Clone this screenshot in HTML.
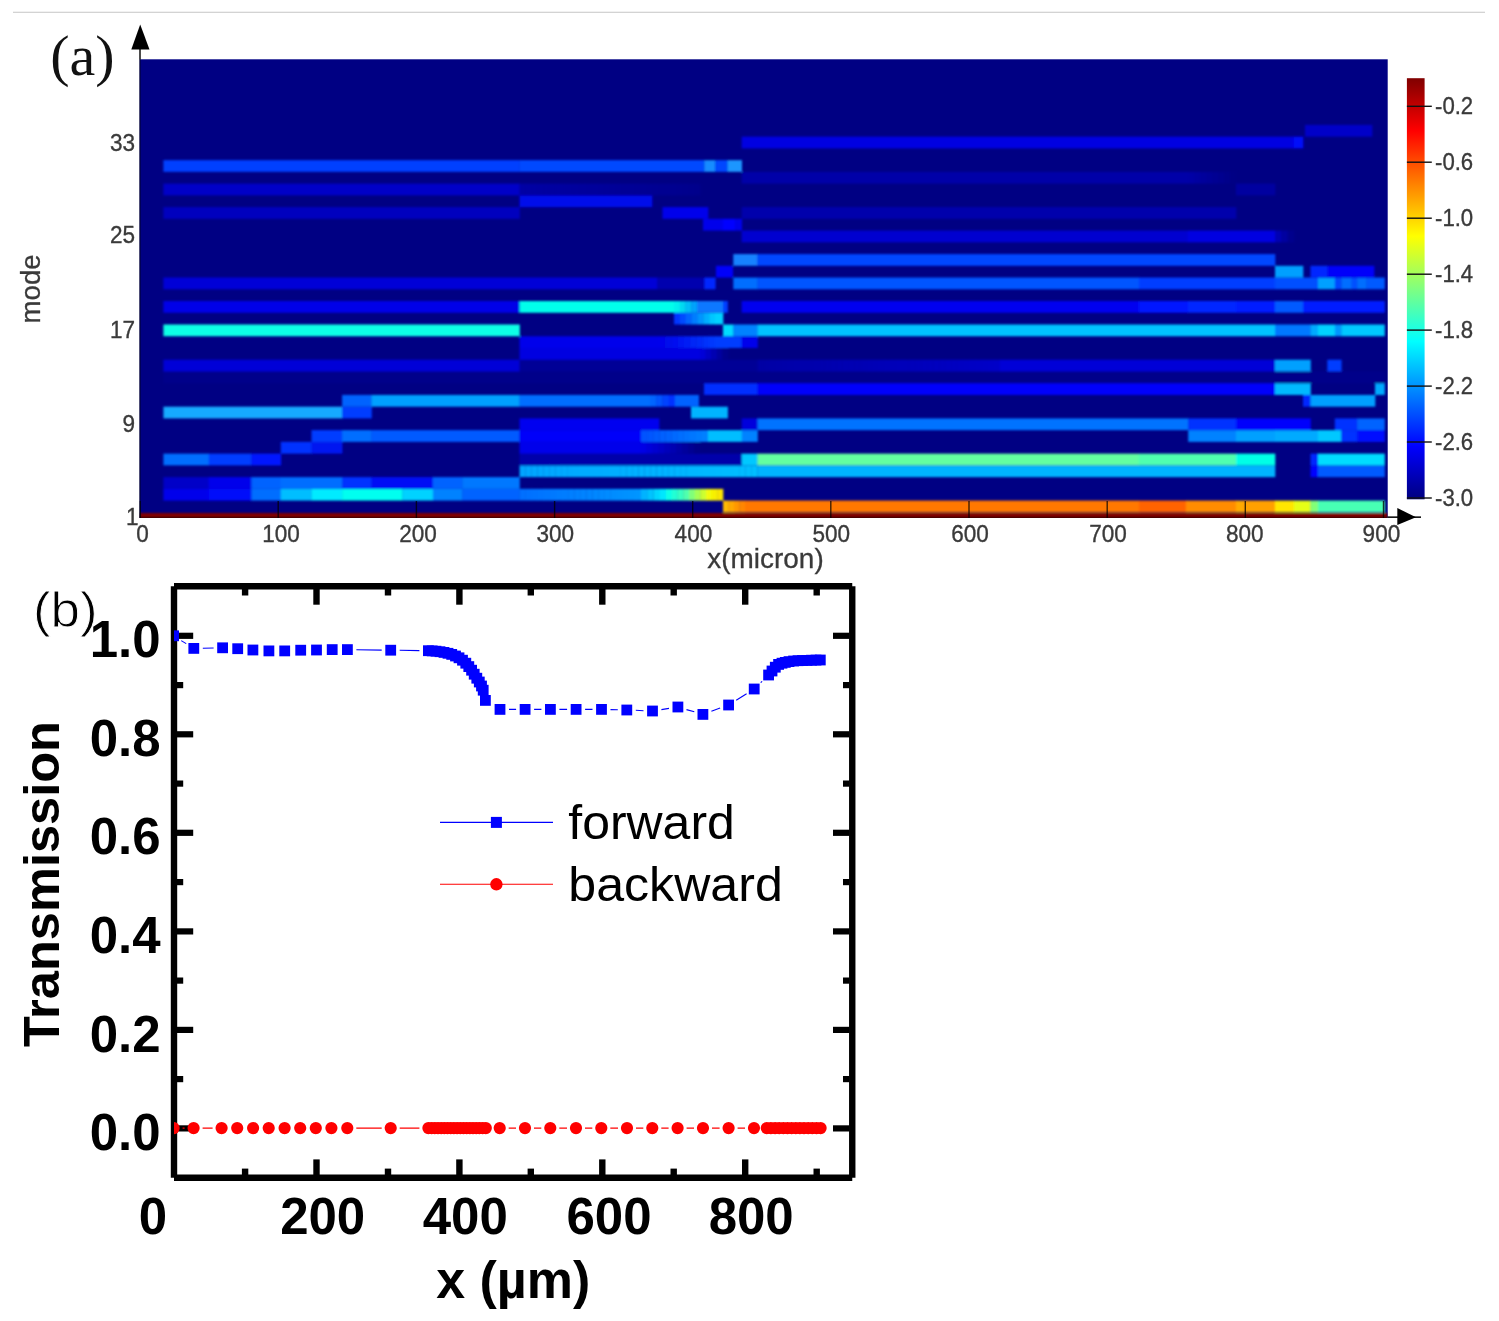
<!DOCTYPE html>
<html lang="en"><head><meta charset="utf-8"><title>Figure</title>
<style>html,body{margin:0;padding:0;background:#fff}svg{display:block}</style></head>
<body>
<svg width="1499" height="1321" viewBox="0 0 1499 1321" font-family="'Liberation Sans',sans-serif">
<defs><linearGradient id="jetg" x1="0" y1="0" x2="0" y2="1"><stop offset="0.0000" stop-color="rgb(128,0,0)"/><stop offset="0.0312" stop-color="rgb(159,0,0)"/><stop offset="0.0625" stop-color="rgb(191,0,0)"/><stop offset="0.0938" stop-color="rgb(223,0,0)"/><stop offset="0.1250" stop-color="rgb(255,0,0)"/><stop offset="0.1562" stop-color="rgb(255,32,0)"/><stop offset="0.1875" stop-color="rgb(255,64,0)"/><stop offset="0.2188" stop-color="rgb(255,96,0)"/><stop offset="0.2500" stop-color="rgb(255,128,0)"/><stop offset="0.2812" stop-color="rgb(255,159,0)"/><stop offset="0.3125" stop-color="rgb(255,191,0)"/><stop offset="0.3438" stop-color="rgb(255,223,0)"/><stop offset="0.3750" stop-color="rgb(255,255,0)"/><stop offset="0.4062" stop-color="rgb(223,255,32)"/><stop offset="0.4375" stop-color="rgb(191,255,64)"/><stop offset="0.4688" stop-color="rgb(159,255,96)"/><stop offset="0.5000" stop-color="rgb(128,255,128)"/><stop offset="0.5312" stop-color="rgb(96,255,159)"/><stop offset="0.5625" stop-color="rgb(64,255,191)"/><stop offset="0.5938" stop-color="rgb(32,255,223)"/><stop offset="0.6250" stop-color="rgb(0,255,255)"/><stop offset="0.6562" stop-color="rgb(0,223,255)"/><stop offset="0.6875" stop-color="rgb(0,191,255)"/><stop offset="0.7188" stop-color="rgb(0,159,255)"/><stop offset="0.7500" stop-color="rgb(0,128,255)"/><stop offset="0.7812" stop-color="rgb(0,96,255)"/><stop offset="0.8125" stop-color="rgb(0,64,255)"/><stop offset="0.8438" stop-color="rgb(0,32,255)"/><stop offset="0.8750" stop-color="rgb(0,0,255)"/><stop offset="0.9062" stop-color="rgb(0,0,223)"/><stop offset="0.9375" stop-color="rgb(0,0,191)"/><stop offset="0.9688" stop-color="rgb(0,0,159)"/><stop offset="1.0000" stop-color="rgb(0,0,128)"/></linearGradient><filter id="blur" x="-2%" y="-2%" width="104%" height="104%"><feGaussianBlur stdDeviation="1.0"/></filter>
<clipPath id="hmclip"><rect x="139.5" y="59.3" width="1248.2" height="458.6"/></clipPath>
<clipPath id="plotclip"><rect x="174.0" y="586.3" width="678.2" height="591.5"/></clipPath>
</defs>
<rect x="13" y="11.7" width="1472" height="1.2" fill="#cfcfcf"/>
<rect x="139.5" y="59.3" width="1248.2" height="458.6" fill="rgb(0,0,131)"/>
<g clip-path="url(#hmclip)"><g filter="url(#blur)"><rect x="723.0" y="500.59" width="5.8" height="11.74" fill="rgb(255,186,0)"/><rect x="728.5" y="500.59" width="5.8" height="11.74" fill="rgb(255,169,0)"/><rect x="734.0" y="500.59" width="5.8" height="11.74" fill="rgb(255,151,0)"/><rect x="739.5" y="500.59" width="5.8" height="11.74" fill="rgb(255,134,0)"/><rect x="745.0" y="500.59" width="394.2" height="11.74" fill="rgb(255,120,0)"/><rect x="1138.9" y="500.59" width="47.4" height="11.74" fill="rgb(255,100,0)"/><rect x="1186.0" y="500.59" width="50.3" height="11.74" fill="rgb(255,140,0)"/><rect x="1236.0" y="500.59" width="7.3" height="11.74" fill="rgb(255,170,0)"/><rect x="1243.0" y="500.59" width="32.3" height="11.74" fill="rgb(255,160,0)"/><rect x="1275.0" y="500.59" width="19.0" height="11.74" fill="rgb(255,230,0)"/><rect x="1293.7" y="500.59" width="17.1" height="11.74" fill="rgb(230,255,20)"/><rect x="1310.5" y="500.59" width="7.8" height="11.74" fill="rgb(130,255,120)"/><rect x="1318.0" y="500.59" width="66.8" height="11.74" fill="rgb(70,255,180)"/><rect x="163.4" y="488.85" width="45.6" height="11.74" fill="rgb(0,0,235)"/><rect x="208.7" y="488.85" width="43.0" height="11.74" fill="rgb(0,10,250)"/><rect x="251.4" y="488.85" width="29.7" height="11.74" fill="rgb(0,110,255)"/><rect x="280.8" y="488.85" width="31.0" height="11.74" fill="rgb(0,190,255)"/><rect x="311.5" y="488.85" width="30.9" height="11.74" fill="rgb(0,235,255)"/><rect x="342.1" y="488.85" width="60.4" height="11.74" fill="rgb(0,255,240)"/><rect x="402.2" y="488.85" width="31.0" height="11.74" fill="rgb(0,210,255)"/><rect x="432.9" y="488.85" width="29.6" height="11.74" fill="rgb(0,130,255)"/><rect x="462.2" y="488.85" width="57.6" height="11.74" fill="rgb(0,100,255)"/><rect x="519.5" y="488.85" width="6.4" height="11.74" fill="rgb(0,111,255)"/><rect x="525.6" y="488.85" width="6.4" height="11.74" fill="rgb(0,113,255)"/><rect x="531.6" y="488.85" width="6.4" height="11.74" fill="rgb(0,115,255)"/><rect x="537.7" y="488.85" width="6.4" height="11.74" fill="rgb(0,117,255)"/><rect x="543.8" y="488.85" width="6.4" height="11.74" fill="rgb(0,119,255)"/><rect x="549.9" y="488.85" width="6.4" height="11.74" fill="rgb(0,121,255)"/><rect x="556.0" y="488.85" width="6.4" height="11.74" fill="rgb(0,123,255)"/><rect x="562.0" y="488.85" width="6.4" height="11.74" fill="rgb(0,125,255)"/><rect x="568.1" y="488.85" width="6.4" height="11.74" fill="rgb(0,127,255)"/><rect x="574.2" y="488.85" width="6.4" height="11.74" fill="rgb(0,129,255)"/><rect x="580.2" y="488.85" width="6.4" height="11.74" fill="rgb(0,131,255)"/><rect x="586.3" y="488.85" width="6.4" height="11.74" fill="rgb(0,133,255)"/><rect x="592.4" y="488.85" width="6.4" height="11.74" fill="rgb(0,135,255)"/><rect x="598.5" y="488.85" width="6.4" height="11.74" fill="rgb(0,137,255)"/><rect x="604.5" y="488.85" width="6.4" height="11.74" fill="rgb(0,139,255)"/><rect x="610.6" y="488.85" width="6.4" height="11.74" fill="rgb(0,141,255)"/><rect x="616.7" y="488.85" width="6.4" height="11.74" fill="rgb(0,143,255)"/><rect x="622.8" y="488.85" width="6.4" height="11.74" fill="rgb(0,145,255)"/><rect x="628.9" y="488.85" width="6.4" height="11.74" fill="rgb(0,147,255)"/><rect x="634.9" y="488.85" width="6.4" height="11.74" fill="rgb(0,149,255)"/><rect x="641.0" y="488.85" width="6.5" height="11.74" fill="rgb(0,179,255)"/><rect x="647.2" y="488.85" width="6.5" height="11.74" fill="rgb(0,196,255)"/><rect x="653.5" y="488.85" width="6.5" height="11.74" fill="rgb(0,214,255)"/><rect x="659.8" y="488.85" width="6.5" height="11.74" fill="rgb(0,231,255)"/><rect x="666.0" y="488.85" width="6.0" height="11.74" fill="rgb(11,255,231)"/><rect x="671.8" y="488.85" width="6.0" height="11.74" fill="rgb(34,255,212)"/><rect x="677.5" y="488.85" width="6.0" height="11.74" fill="rgb(56,255,193)"/><rect x="683.2" y="488.85" width="6.0" height="11.74" fill="rgb(79,255,174)"/><rect x="689.0" y="488.85" width="6.0" height="11.74" fill="rgb(128,255,122)"/><rect x="694.7" y="488.85" width="6.0" height="11.74" fill="rgb(165,255,85)"/><rect x="700.3" y="488.85" width="6.0" height="11.74" fill="rgb(202,255,48)"/><rect x="706.0" y="488.85" width="6.0" height="11.74" fill="rgb(242,250,8)"/><rect x="711.7" y="488.85" width="6.0" height="11.74" fill="rgb(248,240,5)"/><rect x="717.3" y="488.85" width="6.0" height="11.74" fill="rgb(252,230,2)"/><rect x="163.4" y="477.11" width="45.6" height="11.74" fill="rgb(0,0,200)"/><rect x="208.7" y="477.11" width="43.0" height="11.74" fill="rgb(0,0,235)"/><rect x="251.4" y="477.11" width="29.7" height="11.74" fill="rgb(0,100,255)"/><rect x="280.8" y="477.11" width="61.6" height="11.74" fill="rgb(0,110,255)"/><rect x="342.1" y="477.11" width="29.7" height="11.74" fill="rgb(0,50,255)"/><rect x="371.5" y="477.11" width="61.7" height="11.74" fill="rgb(0,10,245)"/><rect x="432.9" y="477.11" width="29.6" height="11.74" fill="rgb(0,100,255)"/><rect x="462.2" y="477.11" width="57.6" height="11.74" fill="rgb(0,120,255)"/><rect x="519.5" y="465.37" width="6.2" height="11.74" fill="rgb(0,165,255)"/><rect x="525.5" y="465.37" width="6.2" height="11.74" fill="rgb(0,166,255)"/><rect x="531.4" y="465.37" width="6.2" height="11.74" fill="rgb(0,167,255)"/><rect x="537.4" y="465.37" width="6.2" height="11.74" fill="rgb(0,167,255)"/><rect x="543.3" y="465.37" width="6.2" height="11.74" fill="rgb(0,168,255)"/><rect x="549.2" y="465.37" width="6.2" height="11.74" fill="rgb(0,168,255)"/><rect x="555.2" y="465.37" width="6.2" height="11.74" fill="rgb(0,169,255)"/><rect x="561.1" y="465.37" width="6.2" height="11.74" fill="rgb(0,170,255)"/><rect x="567.1" y="465.37" width="6.2" height="11.74" fill="rgb(0,170,255)"/><rect x="573.0" y="465.37" width="6.2" height="11.74" fill="rgb(0,171,255)"/><rect x="579.0" y="465.37" width="6.2" height="11.74" fill="rgb(0,172,255)"/><rect x="585.0" y="465.37" width="6.2" height="11.74" fill="rgb(0,172,255)"/><rect x="590.9" y="465.37" width="6.2" height="11.74" fill="rgb(0,173,255)"/><rect x="596.9" y="465.37" width="6.2" height="11.74" fill="rgb(0,173,255)"/><rect x="602.8" y="465.37" width="6.2" height="11.74" fill="rgb(0,174,255)"/><rect x="608.8" y="465.37" width="6.2" height="11.74" fill="rgb(0,175,255)"/><rect x="614.7" y="465.37" width="6.2" height="11.74" fill="rgb(0,175,255)"/><rect x="620.6" y="465.37" width="6.2" height="11.74" fill="rgb(0,176,255)"/><rect x="626.6" y="465.37" width="6.2" height="11.74" fill="rgb(0,177,255)"/><rect x="632.5" y="465.37" width="6.2" height="11.74" fill="rgb(0,177,255)"/><rect x="638.5" y="465.37" width="6.2" height="11.74" fill="rgb(0,178,255)"/><rect x="644.5" y="465.37" width="6.2" height="11.74" fill="rgb(0,178,255)"/><rect x="650.4" y="465.37" width="6.2" height="11.74" fill="rgb(0,179,255)"/><rect x="656.4" y="465.37" width="6.2" height="11.74" fill="rgb(0,180,255)"/><rect x="662.3" y="465.37" width="6.2" height="11.74" fill="rgb(0,180,255)"/><rect x="668.2" y="465.37" width="6.2" height="11.74" fill="rgb(0,181,255)"/><rect x="674.2" y="465.37" width="6.2" height="11.74" fill="rgb(0,182,255)"/><rect x="680.1" y="465.37" width="6.2" height="11.74" fill="rgb(0,182,255)"/><rect x="686.1" y="465.37" width="6.2" height="11.74" fill="rgb(0,183,255)"/><rect x="692.0" y="465.37" width="6.2" height="11.74" fill="rgb(0,183,255)"/><rect x="698.0" y="465.37" width="6.2" height="11.74" fill="rgb(0,184,255)"/><rect x="704.0" y="465.37" width="6.2" height="11.74" fill="rgb(0,185,255)"/><rect x="709.9" y="465.37" width="6.2" height="11.74" fill="rgb(0,185,255)"/><rect x="715.9" y="465.37" width="6.2" height="11.74" fill="rgb(0,186,255)"/><rect x="721.8" y="465.37" width="6.2" height="11.74" fill="rgb(0,187,255)"/><rect x="727.8" y="465.37" width="6.2" height="11.74" fill="rgb(0,187,255)"/><rect x="733.7" y="465.37" width="6.2" height="11.74" fill="rgb(0,188,255)"/><rect x="739.6" y="465.37" width="6.2" height="11.74" fill="rgb(0,188,255)"/><rect x="745.6" y="465.37" width="6.2" height="11.74" fill="rgb(0,189,255)"/><rect x="751.5" y="465.37" width="6.2" height="11.74" fill="rgb(0,190,255)"/><rect x="757.5" y="465.37" width="517.8" height="11.74" fill="rgb(0,180,255)"/><rect x="1310.5" y="465.37" width="7.8" height="11.74" fill="rgb(0,0,255)"/><rect x="1318.0" y="465.37" width="66.8" height="11.74" fill="rgb(0,90,255)"/><rect x="163.4" y="453.63" width="45.6" height="11.74" fill="rgb(0,110,255)"/><rect x="208.7" y="453.63" width="43.0" height="11.74" fill="rgb(0,60,255)"/><rect x="251.4" y="453.63" width="29.7" height="11.74" fill="rgb(0,20,255)"/><rect x="519.5" y="453.63" width="222.5" height="11.74" fill="rgb(0,0,170)"/><rect x="741.7" y="453.63" width="16.1" height="11.74" fill="rgb(0,200,255)"/><rect x="757.5" y="453.63" width="381.7" height="11.74" fill="rgb(100,255,160)"/><rect x="1138.9" y="453.63" width="97.4" height="11.74" fill="rgb(80,255,175)"/><rect x="1236.0" y="453.63" width="39.3" height="11.74" fill="rgb(0,255,230)"/><rect x="1310.5" y="453.63" width="7.8" height="11.74" fill="rgb(0,40,255)"/><rect x="1318.0" y="453.63" width="66.8" height="11.74" fill="rgb(0,220,255)"/><rect x="280.8" y="441.89" width="31.0" height="11.74" fill="rgb(0,50,255)"/><rect x="311.5" y="441.89" width="30.9" height="11.74" fill="rgb(0,20,240)"/><rect x="519.5" y="441.89" width="120.8" height="11.74" fill="rgb(0,0,235)"/><rect x="640.0" y="441.89" width="6.3" height="11.74" fill="rgb(0,0,230)"/><rect x="646.0" y="441.89" width="6.3" height="11.74" fill="rgb(0,0,219)"/><rect x="652.0" y="441.89" width="6.3" height="11.74" fill="rgb(0,0,209)"/><rect x="658.0" y="441.89" width="6.3" height="11.74" fill="rgb(0,0,199)"/><rect x="664.0" y="441.89" width="6.3" height="11.74" fill="rgb(0,0,188)"/><rect x="670.0" y="441.89" width="6.3" height="11.74" fill="rgb(0,0,178)"/><rect x="676.0" y="441.89" width="6.3" height="11.74" fill="rgb(0,0,167)"/><rect x="682.0" y="441.89" width="6.3" height="11.74" fill="rgb(0,0,157)"/><rect x="688.0" y="441.89" width="6.3" height="11.74" fill="rgb(0,0,147)"/><rect x="694.0" y="441.89" width="6.3" height="11.74" fill="rgb(0,0,136)"/><rect x="311.5" y="430.15" width="30.9" height="11.74" fill="rgb(0,60,255)"/><rect x="342.1" y="430.15" width="29.7" height="11.74" fill="rgb(0,110,255)"/><rect x="371.5" y="430.15" width="148.3" height="11.74" fill="rgb(0,90,255)"/><rect x="519.5" y="430.15" width="121.8" height="11.74" fill="rgb(0,0,250)"/><rect x="641.0" y="430.15" width="6.4" height="11.74" fill="rgb(0,82,255)"/><rect x="647.1" y="430.15" width="6.4" height="11.74" fill="rgb(0,87,255)"/><rect x="653.2" y="430.15" width="6.4" height="11.74" fill="rgb(0,91,255)"/><rect x="659.3" y="430.15" width="6.4" height="11.74" fill="rgb(0,96,255)"/><rect x="665.4" y="430.15" width="6.4" height="11.74" fill="rgb(0,100,255)"/><rect x="671.5" y="430.15" width="6.4" height="11.74" fill="rgb(0,105,255)"/><rect x="677.5" y="430.15" width="6.4" height="11.74" fill="rgb(0,110,255)"/><rect x="683.6" y="430.15" width="6.4" height="11.74" fill="rgb(0,114,255)"/><rect x="689.7" y="430.15" width="6.4" height="11.74" fill="rgb(0,119,255)"/><rect x="695.8" y="430.15" width="6.4" height="11.74" fill="rgb(0,123,255)"/><rect x="701.9" y="430.15" width="6.4" height="11.74" fill="rgb(0,128,255)"/><rect x="708.0" y="430.15" width="34.0" height="11.74" fill="rgb(0,190,255)"/><rect x="741.7" y="430.15" width="16.1" height="11.74" fill="rgb(0,130,255)"/><rect x="1188.2" y="430.15" width="48.1" height="11.74" fill="rgb(0,130,255)"/><rect x="1236.0" y="430.15" width="39.3" height="11.74" fill="rgb(0,160,255)"/><rect x="1275.0" y="430.15" width="43.3" height="11.74" fill="rgb(0,170,255)"/><rect x="1318.0" y="430.15" width="23.6" height="11.74" fill="rgb(0,200,255)"/><rect x="1341.3" y="430.15" width="16.2" height="11.74" fill="rgb(0,50,255)"/><rect x="1357.2" y="430.15" width="27.6" height="11.74" fill="rgb(0,10,255)"/><rect x="519.5" y="418.41" width="139.8" height="11.74" fill="rgb(0,0,240)"/><rect x="741.7" y="418.41" width="16.1" height="11.74" fill="rgb(0,0,220)"/><rect x="757.5" y="418.41" width="431.0" height="11.74" fill="rgb(0,115,255)"/><rect x="1188.2" y="418.41" width="48.1" height="11.74" fill="rgb(0,50,255)"/><rect x="1236.0" y="418.41" width="74.8" height="11.74" fill="rgb(0,5,252)"/><rect x="1334.8" y="418.41" width="22.7" height="11.74" fill="rgb(0,50,255)"/><rect x="1357.2" y="418.41" width="27.6" height="11.74" fill="rgb(0,100,255)"/><rect x="163.4" y="406.67" width="179.0" height="11.74" fill="rgb(20,170,255)"/><rect x="342.1" y="406.67" width="29.7" height="11.74" fill="rgb(0,60,255)"/><rect x="691.0" y="406.67" width="36.9" height="11.74" fill="rgb(0,180,255)"/><rect x="342.1" y="394.93" width="29.7" height="11.74" fill="rgb(0,100,255)"/><rect x="371.5" y="394.93" width="148.3" height="11.74" fill="rgb(0,160,255)"/><rect x="519.5" y="394.93" width="130.8" height="11.74" fill="rgb(0,110,255)"/><rect x="650.0" y="394.93" width="6.5" height="11.74" fill="rgb(0,101,255)"/><rect x="656.2" y="394.93" width="6.5" height="11.74" fill="rgb(0,84,255)"/><rect x="662.5" y="394.93" width="6.5" height="11.74" fill="rgb(0,66,255)"/><rect x="668.8" y="394.93" width="6.5" height="11.74" fill="rgb(0,49,255)"/><rect x="675.0" y="394.93" width="23.9" height="11.74" fill="rgb(0,100,255)"/><rect x="1303.0" y="394.93" width="7.8" height="11.74" fill="rgb(0,40,255)"/><rect x="1310.5" y="394.93" width="64.8" height="11.74" fill="rgb(0,160,255)"/><rect x="704.0" y="383.19" width="53.8" height="11.74" fill="rgb(0,45,255)"/><rect x="757.5" y="383.19" width="517.8" height="11.74" fill="rgb(0,5,252)"/><rect x="1275.0" y="383.19" width="35.8" height="11.74" fill="rgb(0,185,255)"/><rect x="1375.0" y="383.19" width="9.8" height="11.74" fill="rgb(0,170,255)"/><rect x="163.4" y="371.45" width="1221.4" height="11.74" fill="rgb(0,0,138)"/><rect x="163.4" y="359.71" width="356.4" height="11.74" fill="rgb(0,0,215)"/><rect x="519.5" y="359.71" width="238.3" height="11.74" fill="rgb(0,0,150)"/><rect x="757.5" y="359.71" width="6.4" height="11.74" fill="rgb(0,0,165)"/><rect x="763.6" y="359.71" width="6.4" height="11.74" fill="rgb(0,0,166)"/><rect x="769.6" y="359.71" width="6.4" height="11.74" fill="rgb(0,0,167)"/><rect x="775.7" y="359.71" width="6.4" height="11.74" fill="rgb(0,0,168)"/><rect x="781.8" y="359.71" width="6.4" height="11.74" fill="rgb(0,0,169)"/><rect x="787.8" y="359.71" width="6.4" height="11.74" fill="rgb(0,0,170)"/><rect x="793.9" y="359.71" width="6.4" height="11.74" fill="rgb(0,0,171)"/><rect x="799.9" y="359.71" width="6.4" height="11.74" fill="rgb(0,0,172)"/><rect x="806.0" y="359.71" width="6.4" height="11.74" fill="rgb(0,0,172)"/><rect x="812.1" y="359.71" width="6.4" height="11.74" fill="rgb(0,0,173)"/><rect x="818.1" y="359.71" width="6.4" height="11.74" fill="rgb(0,0,174)"/><rect x="824.2" y="359.71" width="6.4" height="11.74" fill="rgb(0,0,175)"/><rect x="830.2" y="359.71" width="6.4" height="11.74" fill="rgb(0,0,176)"/><rect x="836.3" y="359.71" width="6.4" height="11.74" fill="rgb(0,0,177)"/><rect x="842.4" y="359.71" width="6.4" height="11.74" fill="rgb(0,0,178)"/><rect x="848.4" y="359.71" width="6.4" height="11.74" fill="rgb(0,0,179)"/><rect x="854.5" y="359.71" width="6.4" height="11.74" fill="rgb(0,0,179)"/><rect x="860.6" y="359.71" width="6.4" height="11.74" fill="rgb(0,0,180)"/><rect x="866.6" y="359.71" width="6.4" height="11.74" fill="rgb(0,0,181)"/><rect x="872.7" y="359.71" width="6.4" height="11.74" fill="rgb(0,0,182)"/><rect x="878.8" y="359.71" width="6.4" height="11.74" fill="rgb(0,0,183)"/><rect x="884.8" y="359.71" width="6.4" height="11.74" fill="rgb(0,0,184)"/><rect x="890.9" y="359.71" width="6.4" height="11.74" fill="rgb(0,0,185)"/><rect x="896.9" y="359.71" width="6.4" height="11.74" fill="rgb(0,0,186)"/><rect x="903.0" y="359.71" width="6.4" height="11.74" fill="rgb(0,0,186)"/><rect x="909.1" y="359.71" width="6.4" height="11.74" fill="rgb(0,0,187)"/><rect x="915.1" y="359.71" width="6.4" height="11.74" fill="rgb(0,0,188)"/><rect x="921.2" y="359.71" width="6.4" height="11.74" fill="rgb(0,0,189)"/><rect x="927.2" y="359.71" width="6.4" height="11.74" fill="rgb(0,0,190)"/><rect x="933.3" y="359.71" width="6.4" height="11.74" fill="rgb(0,0,191)"/><rect x="939.4" y="359.71" width="6.4" height="11.74" fill="rgb(0,0,192)"/><rect x="945.4" y="359.71" width="6.4" height="11.74" fill="rgb(0,0,193)"/><rect x="951.5" y="359.71" width="6.4" height="11.74" fill="rgb(0,0,193)"/><rect x="957.6" y="359.71" width="6.4" height="11.74" fill="rgb(0,0,194)"/><rect x="963.6" y="359.71" width="6.4" height="11.74" fill="rgb(0,0,195)"/><rect x="969.7" y="359.71" width="6.4" height="11.74" fill="rgb(0,0,196)"/><rect x="975.8" y="359.71" width="6.4" height="11.74" fill="rgb(0,0,197)"/><rect x="981.8" y="359.71" width="6.4" height="11.74" fill="rgb(0,0,198)"/><rect x="987.9" y="359.71" width="6.4" height="11.74" fill="rgb(0,0,199)"/><rect x="993.9" y="359.71" width="6.4" height="11.74" fill="rgb(0,0,200)"/><rect x="1000.0" y="359.71" width="275.3" height="11.74" fill="rgb(0,0,215)"/><rect x="1275.0" y="359.71" width="35.8" height="11.74" fill="rgb(0,160,255)"/><rect x="1327.3" y="359.71" width="14.3" height="11.74" fill="rgb(0,60,255)"/><rect x="519.5" y="347.97" width="180.8" height="11.74" fill="rgb(0,0,225)"/><rect x="700.0" y="347.97" width="5.9" height="11.74" fill="rgb(0,0,216)"/><rect x="705.6" y="347.97" width="5.9" height="11.74" fill="rgb(0,0,197)"/><rect x="711.2" y="347.97" width="5.9" height="11.74" fill="rgb(0,0,178)"/><rect x="716.8" y="347.97" width="5.9" height="11.74" fill="rgb(0,0,159)"/><rect x="722.4" y="347.97" width="5.9" height="11.74" fill="rgb(0,0,140)"/><rect x="519.5" y="336.23" width="139.8" height="11.74" fill="rgb(0,0,235)"/><rect x="659.0" y="336.23" width="6.5" height="11.74" fill="rgb(0,3,236)"/><rect x="665.2" y="336.23" width="6.5" height="11.74" fill="rgb(0,10,238)"/><rect x="671.4" y="336.23" width="6.5" height="11.74" fill="rgb(0,17,241)"/><rect x="677.7" y="336.23" width="6.5" height="11.74" fill="rgb(0,23,243)"/><rect x="683.9" y="336.23" width="6.5" height="11.74" fill="rgb(0,30,245)"/><rect x="690.1" y="336.23" width="6.5" height="11.74" fill="rgb(0,37,247)"/><rect x="696.3" y="336.23" width="6.5" height="11.74" fill="rgb(0,43,249)"/><rect x="702.6" y="336.23" width="6.5" height="11.74" fill="rgb(0,50,252)"/><rect x="708.8" y="336.23" width="6.5" height="11.74" fill="rgb(0,57,254)"/><rect x="715.0" y="336.23" width="27.0" height="11.74" fill="rgb(0,60,255)"/><rect x="741.7" y="336.23" width="16.1" height="11.74" fill="rgb(0,0,235)"/><rect x="163.4" y="324.49" width="356.4" height="11.74" fill="rgb(15,255,230)"/><rect x="723.0" y="324.49" width="10.6" height="11.74" fill="rgb(0,220,255)"/><rect x="733.3" y="324.49" width="24.5" height="11.74" fill="rgb(0,130,255)"/><rect x="757.5" y="324.49" width="517.8" height="11.74" fill="rgb(0,195,255)"/><rect x="1275.0" y="324.49" width="35.8" height="11.74" fill="rgb(0,120,255)"/><rect x="1310.5" y="324.49" width="7.8" height="11.74" fill="rgb(0,170,255)"/><rect x="1318.0" y="324.49" width="17.1" height="11.74" fill="rgb(0,210,255)"/><rect x="1334.8" y="324.49" width="6.8" height="11.74" fill="rgb(0,150,255)"/><rect x="1341.3" y="324.49" width="43.5" height="11.74" fill="rgb(0,200,255)"/><rect x="674.0" y="312.75" width="6.2" height="11.74" fill="rgb(0,52,255)"/><rect x="679.9" y="312.75" width="6.2" height="11.74" fill="rgb(0,76,255)"/><rect x="685.7" y="312.75" width="6.2" height="11.74" fill="rgb(0,101,255)"/><rect x="691.6" y="312.75" width="6.2" height="11.74" fill="rgb(0,125,255)"/><rect x="697.4" y="312.75" width="6.2" height="11.74" fill="rgb(0,149,255)"/><rect x="703.3" y="312.75" width="6.2" height="11.74" fill="rgb(0,174,255)"/><rect x="709.1" y="312.75" width="6.2" height="11.74" fill="rgb(0,198,255)"/><rect x="715.0" y="312.75" width="8.3" height="11.74" fill="rgb(0,210,255)"/><rect x="163.4" y="301.01" width="356.4" height="11.74" fill="rgb(0,0,232)"/><rect x="519.5" y="301.01" width="154.8" height="11.74" fill="rgb(0,255,235)"/><rect x="674.0" y="301.01" width="6.0" height="11.74" fill="rgb(0,242,238)"/><rect x="679.8" y="301.01" width="6.0" height="11.74" fill="rgb(0,216,242)"/><rect x="685.5" y="301.01" width="6.0" height="11.74" fill="rgb(0,189,248)"/><rect x="691.2" y="301.01" width="6.0" height="11.74" fill="rgb(0,163,252)"/><rect x="697.0" y="301.01" width="26.3" height="11.74" fill="rgb(10,120,255)"/><rect x="723.0" y="301.01" width="4.9" height="11.74" fill="rgb(0,60,255)"/><rect x="741.7" y="301.01" width="397.5" height="11.74" fill="rgb(0,0,240)"/><rect x="1138.9" y="301.01" width="49.4" height="11.74" fill="rgb(0,20,255)"/><rect x="1188.0" y="301.01" width="48.3" height="11.74" fill="rgb(0,40,255)"/><rect x="1236.0" y="301.01" width="39.3" height="11.74" fill="rgb(0,30,255)"/><rect x="1275.0" y="301.01" width="28.3" height="11.74" fill="rgb(0,90,255)"/><rect x="1303.0" y="301.01" width="81.8" height="11.74" fill="rgb(0,30,255)"/><rect x="163.4" y="277.53" width="493.9" height="11.74" fill="rgb(0,0,215)"/><rect x="657.0" y="277.53" width="47.7" height="11.74" fill="rgb(0,0,175)"/><rect x="704.4" y="277.53" width="11.2" height="11.74" fill="rgb(0,40,255)"/><rect x="733.3" y="277.53" width="24.5" height="11.74" fill="rgb(0,110,255)"/><rect x="757.5" y="277.53" width="381.7" height="11.74" fill="rgb(0,85,255)"/><rect x="1138.9" y="277.53" width="136.4" height="11.74" fill="rgb(0,60,255)"/><rect x="1275.0" y="277.53" width="43.3" height="11.74" fill="rgb(0,80,255)"/><rect x="1318.0" y="277.53" width="17.1" height="11.74" fill="rgb(0,160,255)"/><rect x="1334.8" y="277.53" width="6.8" height="11.74" fill="rgb(0,70,255)"/><rect x="1341.3" y="277.53" width="10.6" height="11.74" fill="rgb(0,110,255)"/><rect x="1351.6" y="277.53" width="5.9" height="11.74" fill="rgb(0,80,255)"/><rect x="1357.2" y="277.53" width="9.6" height="11.74" fill="rgb(0,110,255)"/><rect x="1366.5" y="277.53" width="18.3" height="11.74" fill="rgb(0,90,255)"/><rect x="716.0" y="265.79" width="17.0" height="11.74" fill="rgb(0,0,250)"/><rect x="1275.0" y="265.79" width="28.3" height="11.74" fill="rgb(0,160,255)"/><rect x="1310.5" y="265.79" width="17.1" height="11.74" fill="rgb(0,40,255)"/><rect x="1327.3" y="265.79" width="47.0" height="11.74" fill="rgb(0,0,250)"/><rect x="733.3" y="254.05" width="24.5" height="11.74" fill="rgb(20,130,255)"/><rect x="757.5" y="254.05" width="517.8" height="11.74" fill="rgb(0,70,255)"/><rect x="741.7" y="230.57" width="446.6" height="11.74" fill="rgb(0,0,208)"/><rect x="1188.0" y="230.57" width="87.3" height="11.74" fill="rgb(0,0,225)"/><rect x="1275.0" y="230.57" width="6.6" height="11.74" fill="rgb(0,0,180)"/><rect x="1281.3" y="230.57" width="6.6" height="11.74" fill="rgb(0,0,160)"/><rect x="1287.7" y="230.57" width="6.6" height="11.74" fill="rgb(0,0,141)"/><rect x="703.0" y="218.83" width="19.7" height="11.74" fill="rgb(0,0,235)"/><rect x="722.4" y="218.83" width="13.2" height="11.74" fill="rgb(0,0,255)"/><rect x="735.3" y="218.83" width="6.7" height="11.74" fill="rgb(0,0,235)"/><rect x="163.4" y="207.09" width="356.4" height="11.74" fill="rgb(0,0,190)"/><rect x="662.5" y="207.09" width="45.8" height="11.74" fill="rgb(0,0,235)"/><rect x="741.7" y="207.09" width="494.6" height="11.74" fill="rgb(0,0,172)"/><rect x="519.5" y="195.35" width="132.8" height="11.74" fill="rgb(0,10,235)"/><rect x="163.4" y="183.61" width="356.4" height="11.74" fill="rgb(0,0,200)"/><rect x="519.5" y="183.61" width="6.3" height="11.74" fill="rgb(0,0,165)"/><rect x="525.5" y="183.61" width="6.3" height="11.74" fill="rgb(0,0,164)"/><rect x="531.5" y="183.61" width="6.3" height="11.74" fill="rgb(0,0,163)"/><rect x="537.5" y="183.61" width="6.3" height="11.74" fill="rgb(0,0,162)"/><rect x="543.6" y="183.61" width="6.3" height="11.74" fill="rgb(0,0,161)"/><rect x="549.6" y="183.61" width="6.3" height="11.74" fill="rgb(0,0,160)"/><rect x="555.6" y="183.61" width="6.3" height="11.74" fill="rgb(0,0,160)"/><rect x="561.6" y="183.61" width="6.3" height="11.74" fill="rgb(0,0,159)"/><rect x="567.6" y="183.61" width="6.3" height="11.74" fill="rgb(0,0,158)"/><rect x="573.6" y="183.61" width="6.3" height="11.74" fill="rgb(0,0,157)"/><rect x="579.7" y="183.61" width="6.3" height="11.74" fill="rgb(0,0,156)"/><rect x="585.7" y="183.61" width="6.3" height="11.74" fill="rgb(0,0,155)"/><rect x="591.7" y="183.61" width="6.3" height="11.74" fill="rgb(0,0,155)"/><rect x="597.7" y="183.61" width="6.3" height="11.74" fill="rgb(0,0,154)"/><rect x="603.7" y="183.61" width="6.3" height="11.74" fill="rgb(0,0,153)"/><rect x="609.8" y="183.61" width="6.3" height="11.74" fill="rgb(0,0,152)"/><rect x="615.8" y="183.61" width="6.3" height="11.74" fill="rgb(0,0,151)"/><rect x="621.8" y="183.61" width="6.3" height="11.74" fill="rgb(0,0,150)"/><rect x="627.8" y="183.61" width="6.3" height="11.74" fill="rgb(0,0,150)"/><rect x="633.8" y="183.61" width="6.3" height="11.74" fill="rgb(0,0,149)"/><rect x="639.8" y="183.61" width="6.3" height="11.74" fill="rgb(0,0,148)"/><rect x="645.9" y="183.61" width="6.3" height="11.74" fill="rgb(0,0,147)"/><rect x="651.9" y="183.61" width="6.3" height="11.74" fill="rgb(0,0,146)"/><rect x="657.9" y="183.61" width="6.3" height="11.74" fill="rgb(0,0,145)"/><rect x="663.9" y="183.61" width="6.3" height="11.74" fill="rgb(0,0,145)"/><rect x="669.9" y="183.61" width="6.3" height="11.74" fill="rgb(0,0,144)"/><rect x="675.9" y="183.61" width="6.3" height="11.74" fill="rgb(0,0,143)"/><rect x="682.0" y="183.61" width="6.3" height="11.74" fill="rgb(0,0,142)"/><rect x="688.0" y="183.61" width="6.3" height="11.74" fill="rgb(0,0,141)"/><rect x="694.0" y="183.61" width="6.3" height="11.74" fill="rgb(0,0,140)"/><rect x="1236.0" y="183.61" width="39.3" height="11.74" fill="rgb(0,0,160)"/><rect x="741.7" y="171.87" width="446.6" height="11.74" fill="rgb(0,0,168)"/><rect x="1188.0" y="171.87" width="6.3" height="11.74" fill="rgb(0,0,166)"/><rect x="1194.0" y="171.87" width="6.3" height="11.74" fill="rgb(0,0,161)"/><rect x="1200.0" y="171.87" width="6.3" height="11.74" fill="rgb(0,0,156)"/><rect x="1206.0" y="171.87" width="6.3" height="11.74" fill="rgb(0,0,152)"/><rect x="1212.0" y="171.87" width="6.3" height="11.74" fill="rgb(0,0,147)"/><rect x="1218.0" y="171.87" width="6.3" height="11.74" fill="rgb(0,0,143)"/><rect x="1224.0" y="171.87" width="6.3" height="11.74" fill="rgb(0,0,138)"/><rect x="1230.0" y="171.87" width="6.3" height="11.74" fill="rgb(0,0,133)"/><rect x="163.4" y="160.13" width="356.4" height="11.74" fill="rgb(0,64,255)"/><rect x="519.5" y="160.13" width="185.2" height="11.74" fill="rgb(0,72,255)"/><rect x="704.4" y="160.13" width="11.2" height="11.74" fill="rgb(20,140,255)"/><rect x="715.3" y="160.13" width="12.5" height="11.74" fill="rgb(0,70,255)"/><rect x="727.5" y="160.13" width="14.5" height="11.74" fill="rgb(30,150,255)"/><rect x="741.7" y="136.65" width="552.3" height="11.74" fill="rgb(0,0,225)"/><rect x="1293.7" y="136.65" width="9.6" height="11.74" fill="rgb(0,10,250)"/><rect x="1305.0" y="124.91" width="67.3" height="11.74" fill="rgb(0,0,200)"/><rect x="139.5" y="513" width="1248.2" height="8" fill="rgb(128,0,0)"/></g>
<rect x="139.4" y="501" width="1.4" height="17" fill="#000" opacity="0.75"/>
<rect x="277.5" y="501" width="1.4" height="17" fill="#000" opacity="0.75"/>
<rect x="415.7" y="501" width="1.4" height="17" fill="#000" opacity="0.75"/>
<rect x="553.9" y="501" width="1.4" height="17" fill="#000" opacity="0.75"/>
<rect x="692.0" y="501" width="1.4" height="17" fill="#000" opacity="0.75"/>
<rect x="830.1" y="501" width="1.4" height="17" fill="#000" opacity="0.75"/>
<rect x="968.3" y="501" width="1.4" height="17" fill="#000" opacity="0.75"/>
<rect x="1106.5" y="501" width="1.4" height="17" fill="#000" opacity="0.75"/>
<rect x="1244.6" y="501" width="1.4" height="17" fill="#000" opacity="0.75"/>
<rect x="1382.8" y="501" width="1.4" height="17" fill="#000" opacity="0.75"/>
<rect x="139.5" y="516.6" width="1248" height="1.3" fill="#000" opacity="0.45"/>
</g>
<rect x="139.3" y="45" width="1.4" height="14.5" fill="#000"/>
<rect x="139.3" y="59.3" width="1.3" height="458.6" fill="#000" opacity="0.55"/>
<path d="M140.2 24.5 L131.3 49.6 L149.5 49.6 Z" fill="#000"/>
<rect x="1387.5" y="516.4" width="33.5" height="1.5" fill="#000"/>
<path d="M1397.3 508 L1397.3 525 L1416 517.2 Z" fill="#000"/>
<rect x="1406.9" y="78.2" width="17.7" height="421.1" fill="url(#jetg)"/>
<rect x="1406.9" y="497.3" width="24.9" height="1.4" fill="#111"/>
<text x="1435.0" y="505.6" font-size="23.8" textLength="38.2" lengthAdjust="spacingAndGlyphs" fill="#3a3a3a" stroke="#3a3a3a" stroke-width="0.35">-3.0</text>
<rect x="1406.9" y="441.3" width="24.9" height="1.4" fill="#111"/>
<text x="1435.0" y="449.6" font-size="23.8" textLength="38.2" lengthAdjust="spacingAndGlyphs" fill="#3a3a3a" stroke="#3a3a3a" stroke-width="0.35">-2.6</text>
<rect x="1406.9" y="385.4" width="24.9" height="1.4" fill="#111"/>
<text x="1435.0" y="393.7" font-size="23.8" textLength="38.2" lengthAdjust="spacingAndGlyphs" fill="#3a3a3a" stroke="#3a3a3a" stroke-width="0.35">-2.2</text>
<rect x="1406.9" y="329.4" width="24.9" height="1.4" fill="#111"/>
<text x="1435.0" y="337.7" font-size="23.8" textLength="38.2" lengthAdjust="spacingAndGlyphs" fill="#3a3a3a" stroke="#3a3a3a" stroke-width="0.35">-1.8</text>
<rect x="1406.9" y="273.5" width="24.9" height="1.4" fill="#111"/>
<text x="1435.0" y="281.8" font-size="23.8" textLength="38.2" lengthAdjust="spacingAndGlyphs" fill="#3a3a3a" stroke="#3a3a3a" stroke-width="0.35">-1.4</text>
<rect x="1406.9" y="217.5" width="24.9" height="1.4" fill="#111"/>
<text x="1435.0" y="225.8" font-size="23.8" textLength="38.2" lengthAdjust="spacingAndGlyphs" fill="#3a3a3a" stroke="#3a3a3a" stroke-width="0.35">-1.0</text>
<rect x="1406.9" y="161.5" width="24.9" height="1.4" fill="#111"/>
<text x="1435.0" y="169.8" font-size="23.8" textLength="38.2" lengthAdjust="spacingAndGlyphs" fill="#3a3a3a" stroke="#3a3a3a" stroke-width="0.35">-0.6</text>
<rect x="1406.9" y="105.6" width="24.9" height="1.4" fill="#111"/>
<text x="1435.0" y="113.9" font-size="23.8" textLength="38.2" lengthAdjust="spacingAndGlyphs" fill="#3a3a3a" stroke="#3a3a3a" stroke-width="0.35">-0.2</text>
<text x="50.2" y="75.3" font-family="'Liberation Serif',serif" font-size="58" textLength="64.4" lengthAdjust="spacingAndGlyphs" fill="#111">(a)</text>
<text transform="translate(135.0 151.0) scale(0.940 1)" font-size="24.0" text-anchor="end" fill="#3a3a3a" stroke="#3a3a3a" stroke-width="0.35">33</text>
<text transform="translate(135.0 242.8) scale(0.940 1)" font-size="24.0" text-anchor="end" fill="#3a3a3a" stroke="#3a3a3a" stroke-width="0.35">25</text>
<text transform="translate(135.0 338.0) scale(0.940 1)" font-size="24.0" text-anchor="end" fill="#3a3a3a" stroke="#3a3a3a" stroke-width="0.35">17</text>
<text transform="translate(135.0 432.2) scale(0.940 1)" font-size="24.0" text-anchor="end" fill="#3a3a3a" stroke="#3a3a3a" stroke-width="0.35">9</text>
<text transform="translate(138.6 525.0) scale(0.940 1)" font-size="24.0" text-anchor="end" fill="#3a3a3a" stroke="#3a3a3a" stroke-width="0.35">1</text>
<text transform="translate(142.6 542.3) scale(0.940 1)" font-size="24.0" text-anchor="middle" fill="#3a3a3a" stroke="#3a3a3a" stroke-width="0.35">0</text>
<text transform="translate(281.0 542.3) scale(0.940 1)" font-size="24.0" text-anchor="middle" fill="#3a3a3a" stroke="#3a3a3a" stroke-width="0.35">100</text>
<text transform="translate(418.0 542.3) scale(0.940 1)" font-size="24.0" text-anchor="middle" fill="#3a3a3a" stroke="#3a3a3a" stroke-width="0.35">200</text>
<text transform="translate(555.3 542.3) scale(0.940 1)" font-size="24.0" text-anchor="middle" fill="#3a3a3a" stroke="#3a3a3a" stroke-width="0.35">300</text>
<text transform="translate(693.4 542.3) scale(0.940 1)" font-size="24.0" text-anchor="middle" fill="#3a3a3a" stroke="#3a3a3a" stroke-width="0.35">400</text>
<text transform="translate(831.2 542.3) scale(0.940 1)" font-size="24.0" text-anchor="middle" fill="#3a3a3a" stroke="#3a3a3a" stroke-width="0.35">500</text>
<text transform="translate(970.0 542.3) scale(0.940 1)" font-size="24.0" text-anchor="middle" fill="#3a3a3a" stroke="#3a3a3a" stroke-width="0.35">600</text>
<text transform="translate(1108.0 542.3) scale(0.940 1)" font-size="24.0" text-anchor="middle" fill="#3a3a3a" stroke="#3a3a3a" stroke-width="0.35">700</text>
<text transform="translate(1244.7 542.3) scale(0.940 1)" font-size="24.0" text-anchor="middle" fill="#3a3a3a" stroke="#3a3a3a" stroke-width="0.35">800</text>
<text transform="translate(1381.4 542.3) scale(0.940 1)" font-size="24.0" text-anchor="middle" fill="#3a3a3a" stroke="#3a3a3a" stroke-width="0.35">900</text>
<text x="707.3" y="568.4" font-size="28" textLength="116.4" lengthAdjust="spacingAndGlyphs" fill="#3a3a3a" stroke="#3a3a3a" stroke-width="0.3">x(micron)</text>
<text transform="translate(39.9 323.4) rotate(-90)" font-size="28.5" textLength="69" lengthAdjust="spacingAndGlyphs" fill="#3a3a3a" stroke="#3a3a3a" stroke-width="0.3">mode</text>
<line x1="174.00" y1="586.30" x2="852.25" y2="586.30" stroke="#000" stroke-width="6.4"/>
<line x1="174.00" y1="1177.80" x2="852.25" y2="1177.80" stroke="#000" stroke-width="6.4"/>
<line x1="174.00" y1="586.30" x2="174.00" y2="1177.80" stroke="#000" stroke-width="6.4"/>
<line x1="852.25" y1="586.30" x2="852.25" y2="1177.80" stroke="#000" stroke-width="6.4"/>
<rect x="241.9" y="589.0" width="6.4" height="6.5" fill="#000"/>
<rect x="241.9" y="1168.6" width="6.4" height="6.5" fill="#000"/>
<rect x="313.3" y="589.0" width="6.4" height="15.7" fill="#000"/>
<rect x="313.3" y="1159.4" width="6.4" height="15.7" fill="#000"/>
<rect x="384.8" y="589.0" width="6.4" height="6.5" fill="#000"/>
<rect x="384.8" y="1168.6" width="6.4" height="6.5" fill="#000"/>
<rect x="456.2" y="589.0" width="6.4" height="15.7" fill="#000"/>
<rect x="456.2" y="1159.4" width="6.4" height="15.7" fill="#000"/>
<rect x="527.6" y="589.0" width="6.4" height="6.5" fill="#000"/>
<rect x="527.6" y="1168.6" width="6.4" height="6.5" fill="#000"/>
<rect x="599.1" y="589.0" width="6.4" height="15.7" fill="#000"/>
<rect x="599.1" y="1159.4" width="6.4" height="15.7" fill="#000"/>
<rect x="670.5" y="589.0" width="6.4" height="6.5" fill="#000"/>
<rect x="670.5" y="1168.6" width="6.4" height="6.5" fill="#000"/>
<rect x="742.0" y="589.0" width="6.4" height="15.7" fill="#000"/>
<rect x="742.0" y="1159.4" width="6.4" height="15.7" fill="#000"/>
<rect x="813.5" y="589.0" width="6.4" height="6.5" fill="#000"/>
<rect x="813.5" y="1168.6" width="6.4" height="6.5" fill="#000"/>
<rect x="176.7" y="1125.3" width="16.5" height="6.2" fill="#000"/>
<rect x="833.0" y="1125.3" width="16.5" height="6.2" fill="#000"/>
<rect x="176.7" y="1076.0" width="6.5" height="6.2" fill="#000"/>
<rect x="843.0" y="1076.0" width="6.5" height="6.2" fill="#000"/>
<rect x="176.7" y="1026.8" width="16.5" height="6.2" fill="#000"/>
<rect x="833.0" y="1026.8" width="16.5" height="6.2" fill="#000"/>
<rect x="176.7" y="977.5" width="6.5" height="6.2" fill="#000"/>
<rect x="843.0" y="977.5" width="6.5" height="6.2" fill="#000"/>
<rect x="176.7" y="928.3" width="16.5" height="6.2" fill="#000"/>
<rect x="833.0" y="928.3" width="16.5" height="6.2" fill="#000"/>
<rect x="176.7" y="879.0" width="6.5" height="6.2" fill="#000"/>
<rect x="843.0" y="879.0" width="6.5" height="6.2" fill="#000"/>
<rect x="176.7" y="829.7" width="16.5" height="6.2" fill="#000"/>
<rect x="833.0" y="829.7" width="16.5" height="6.2" fill="#000"/>
<rect x="176.7" y="780.5" width="6.5" height="6.2" fill="#000"/>
<rect x="843.0" y="780.5" width="6.5" height="6.2" fill="#000"/>
<rect x="176.7" y="731.2" width="16.5" height="6.2" fill="#000"/>
<rect x="833.0" y="731.2" width="16.5" height="6.2" fill="#000"/>
<rect x="176.7" y="682.0" width="6.5" height="6.2" fill="#000"/>
<rect x="843.0" y="682.0" width="6.5" height="6.2" fill="#000"/>
<rect x="176.7" y="632.7" width="16.5" height="6.2" fill="#000"/>
<rect x="833.0" y="632.7" width="16.5" height="6.2" fill="#000"/>
<g clip-path="url(#plotclip)">
<line x1="181.2" y1="640.6" x2="186.2" y2="643.6" stroke="#0000ff" stroke-width="1.1"/>
<line x1="202.8" y1="648.2" x2="213.6" y2="648.0" stroke="#0000ff" stroke-width="1.1"/>
<line x1="356.4" y1="649.7" x2="381.7" y2="650.1" stroke="#0000ff" stroke-width="1.1"/>
<line x1="399.7" y1="650.3" x2="419.4" y2="650.6" stroke="#0000ff" stroke-width="1.1"/>
<line x1="509.0" y1="709.4" x2="516.1" y2="709.4" stroke="#0000ff" stroke-width="1.1"/>
<line x1="534.1" y1="709.4" x2="541.4" y2="709.4" stroke="#0000ff" stroke-width="1.1"/>
<line x1="559.4" y1="709.4" x2="567.1" y2="709.4" stroke="#0000ff" stroke-width="1.1"/>
<line x1="585.1" y1="709.4" x2="592.5" y2="709.4" stroke="#0000ff" stroke-width="1.1"/>
<line x1="610.5" y1="709.6" x2="617.8" y2="709.8" stroke="#0000ff" stroke-width="1.1"/>
<line x1="635.8" y1="710.3" x2="643.5" y2="710.7" stroke="#0000ff" stroke-width="1.1"/>
<line x1="661.4" y1="709.6" x2="669.0" y2="708.4" stroke="#0000ff" stroke-width="1.1"/>
<line x1="686.5" y1="709.6" x2="694.3" y2="711.8" stroke="#0000ff" stroke-width="1.1"/>
<line x1="711.4" y1="711.3" x2="720.1" y2="708.1" stroke="#0000ff" stroke-width="1.1"/>
<line x1="736.2" y1="700.2" x2="746.6" y2="693.8" stroke="#0000ff" stroke-width="1.1"/>
<line x1="760.7" y1="682.7" x2="762.1" y2="681.3" stroke="#0000ff" stroke-width="1.1"/>
<rect x="168.2" y="630.4" width="10.8" height="10.8" fill="#0000ff"/>
<rect x="188.4" y="643.0" width="10.8" height="10.8" fill="#0000ff"/>
<rect x="217.2" y="642.4" width="10.8" height="10.8" fill="#0000ff"/>
<rect x="232.3" y="643.3" width="10.8" height="10.8" fill="#0000ff"/>
<rect x="247.5" y="644.6" width="10.8" height="10.8" fill="#0000ff"/>
<rect x="263.5" y="645.5" width="10.8" height="10.8" fill="#0000ff"/>
<rect x="279.3" y="645.5" width="10.8" height="10.8" fill="#0000ff"/>
<rect x="295.3" y="644.8" width="10.8" height="10.8" fill="#0000ff"/>
<rect x="311.1" y="644.6" width="10.8" height="10.8" fill="#0000ff"/>
<rect x="326.8" y="644.2" width="10.8" height="10.8" fill="#0000ff"/>
<rect x="342.0" y="644.2" width="10.8" height="10.8" fill="#0000ff"/>
<rect x="385.3" y="644.8" width="10.8" height="10.8" fill="#0000ff"/>
<rect x="423.0" y="645.3" width="10.8" height="10.8" fill="#0000ff"/>
<rect x="426.8" y="645.5" width="10.8" height="10.8" fill="#0000ff"/>
<rect x="430.6" y="645.8" width="10.8" height="10.8" fill="#0000ff"/>
<rect x="434.6" y="646.3" width="10.8" height="10.8" fill="#0000ff"/>
<rect x="438.6" y="647.0" width="10.8" height="10.8" fill="#0000ff"/>
<rect x="442.6" y="647.9" width="10.8" height="10.8" fill="#0000ff"/>
<rect x="446.3" y="649.0" width="10.8" height="10.8" fill="#0000ff"/>
<rect x="450.1" y="650.6" width="10.8" height="10.8" fill="#0000ff"/>
<rect x="453.6" y="652.4" width="10.8" height="10.8" fill="#0000ff"/>
<rect x="457.1" y="654.8" width="10.8" height="10.8" fill="#0000ff"/>
<rect x="460.4" y="657.8" width="10.8" height="10.8" fill="#0000ff"/>
<rect x="463.4" y="661.2" width="10.8" height="10.8" fill="#0000ff"/>
<rect x="466.2" y="664.8" width="10.8" height="10.8" fill="#0000ff"/>
<rect x="468.8" y="668.8" width="10.8" height="10.8" fill="#0000ff"/>
<rect x="471.4" y="672.8" width="10.8" height="10.8" fill="#0000ff"/>
<rect x="473.9" y="676.6" width="10.8" height="10.8" fill="#0000ff"/>
<rect x="476.1" y="680.6" width="10.8" height="10.8" fill="#0000ff"/>
<rect x="477.8" y="684.8" width="10.8" height="10.8" fill="#0000ff"/>
<rect x="480.0" y="695.0" width="10.8" height="10.8" fill="#0000ff"/>
<rect x="494.6" y="704.0" width="10.8" height="10.8" fill="#0000ff"/>
<rect x="519.7" y="704.0" width="10.8" height="10.8" fill="#0000ff"/>
<rect x="545.0" y="704.0" width="10.8" height="10.8" fill="#0000ff"/>
<rect x="570.7" y="704.0" width="10.8" height="10.8" fill="#0000ff"/>
<rect x="596.1" y="704.0" width="10.8" height="10.8" fill="#0000ff"/>
<rect x="621.4" y="704.6" width="10.8" height="10.8" fill="#0000ff"/>
<rect x="647.1" y="705.6" width="10.8" height="10.8" fill="#0000ff"/>
<rect x="672.5" y="701.6" width="10.8" height="10.8" fill="#0000ff"/>
<rect x="697.5" y="709.0" width="10.8" height="10.8" fill="#0000ff"/>
<rect x="723.2" y="699.6" width="10.8" height="10.8" fill="#0000ff"/>
<rect x="748.8" y="683.6" width="10.8" height="10.8" fill="#0000ff"/>
<rect x="763.2" y="669.6" width="10.8" height="10.8" fill="#0000ff"/>
<rect x="766.6" y="665.6" width="10.8" height="10.8" fill="#0000ff"/>
<rect x="769.9" y="661.8" width="10.8" height="10.8" fill="#0000ff"/>
<rect x="773.2" y="659.0" width="10.8" height="10.8" fill="#0000ff"/>
<rect x="776.6" y="657.8" width="10.8" height="10.8" fill="#0000ff"/>
<rect x="779.9" y="657.0" width="10.8" height="10.8" fill="#0000ff"/>
<rect x="783.6" y="656.2" width="10.8" height="10.8" fill="#0000ff"/>
<rect x="788.2" y="655.6" width="10.8" height="10.8" fill="#0000ff"/>
<rect x="792.6" y="655.3" width="10.8" height="10.8" fill="#0000ff"/>
<rect x="797.1" y="655.1" width="10.8" height="10.8" fill="#0000ff"/>
<rect x="801.6" y="655.0" width="10.8" height="10.8" fill="#0000ff"/>
<rect x="806.1" y="654.8" width="10.8" height="10.8" fill="#0000ff"/>
<rect x="810.6" y="654.7" width="10.8" height="10.8" fill="#0000ff"/>
<rect x="814.9" y="654.6" width="10.8" height="10.8" fill="#0000ff"/>
<line x1="182.6" y1="1128.1" x2="184.6" y2="1128.1" stroke="#ff0000" stroke-width="1.1"/>
<line x1="202.6" y1="1128.1" x2="212.6" y2="1128.1" stroke="#ff0000" stroke-width="1.1"/>
<line x1="356.3" y1="1128.1" x2="381.7" y2="1128.1" stroke="#ff0000" stroke-width="1.1"/>
<line x1="399.7" y1="1128.1" x2="419.4" y2="1128.1" stroke="#ff0000" stroke-width="1.1"/>
<line x1="508.7" y1="1128.1" x2="516.0" y2="1128.1" stroke="#ff0000" stroke-width="1.1"/>
<line x1="534.0" y1="1128.1" x2="541.3" y2="1128.1" stroke="#ff0000" stroke-width="1.1"/>
<line x1="559.3" y1="1128.1" x2="567.0" y2="1128.1" stroke="#ff0000" stroke-width="1.1"/>
<line x1="585.0" y1="1128.1" x2="592.3" y2="1128.1" stroke="#ff0000" stroke-width="1.1"/>
<line x1="610.3" y1="1128.1" x2="618.0" y2="1128.1" stroke="#ff0000" stroke-width="1.1"/>
<line x1="636.0" y1="1128.1" x2="643.3" y2="1128.1" stroke="#ff0000" stroke-width="1.1"/>
<line x1="661.3" y1="1128.1" x2="668.6" y2="1128.1" stroke="#ff0000" stroke-width="1.1"/>
<line x1="686.6" y1="1128.1" x2="694.0" y2="1128.1" stroke="#ff0000" stroke-width="1.1"/>
<line x1="712.0" y1="1128.1" x2="719.6" y2="1128.1" stroke="#ff0000" stroke-width="1.1"/>
<line x1="737.6" y1="1128.1" x2="745.0" y2="1128.1" stroke="#ff0000" stroke-width="1.1"/>
<circle cx="173.6" cy="1128.1" r="6.1" fill="#ff0000"/>
<circle cx="193.6" cy="1128.1" r="6.1" fill="#ff0000"/>
<circle cx="221.6" cy="1128.1" r="6.1" fill="#ff0000"/>
<circle cx="237.2" cy="1128.1" r="6.1" fill="#ff0000"/>
<circle cx="253.1" cy="1128.1" r="6.1" fill="#ff0000"/>
<circle cx="268.7" cy="1128.1" r="6.1" fill="#ff0000"/>
<circle cx="284.6" cy="1128.1" r="6.1" fill="#ff0000"/>
<circle cx="300.2" cy="1128.1" r="6.1" fill="#ff0000"/>
<circle cx="315.8" cy="1128.1" r="6.1" fill="#ff0000"/>
<circle cx="331.4" cy="1128.1" r="6.1" fill="#ff0000"/>
<circle cx="347.3" cy="1128.1" r="6.1" fill="#ff0000"/>
<circle cx="390.7" cy="1128.1" r="6.1" fill="#ff0000"/>
<circle cx="428.4" cy="1128.1" r="6.1" fill="#ff0000"/>
<circle cx="431.6" cy="1128.1" r="6.1" fill="#ff0000"/>
<circle cx="434.8" cy="1128.1" r="6.1" fill="#ff0000"/>
<circle cx="438.0" cy="1128.1" r="6.1" fill="#ff0000"/>
<circle cx="441.2" cy="1128.1" r="6.1" fill="#ff0000"/>
<circle cx="444.3" cy="1128.1" r="6.1" fill="#ff0000"/>
<circle cx="447.5" cy="1128.1" r="6.1" fill="#ff0000"/>
<circle cx="450.7" cy="1128.1" r="6.1" fill="#ff0000"/>
<circle cx="453.9" cy="1128.1" r="6.1" fill="#ff0000"/>
<circle cx="457.1" cy="1128.1" r="6.1" fill="#ff0000"/>
<circle cx="460.3" cy="1128.1" r="6.1" fill="#ff0000"/>
<circle cx="463.5" cy="1128.1" r="6.1" fill="#ff0000"/>
<circle cx="466.7" cy="1128.1" r="6.1" fill="#ff0000"/>
<circle cx="469.9" cy="1128.1" r="6.1" fill="#ff0000"/>
<circle cx="473.0" cy="1128.1" r="6.1" fill="#ff0000"/>
<circle cx="476.2" cy="1128.1" r="6.1" fill="#ff0000"/>
<circle cx="479.4" cy="1128.1" r="6.1" fill="#ff0000"/>
<circle cx="482.6" cy="1128.1" r="6.1" fill="#ff0000"/>
<circle cx="485.8" cy="1128.1" r="6.1" fill="#ff0000"/>
<circle cx="499.7" cy="1128.1" r="6.1" fill="#ff0000"/>
<circle cx="525.0" cy="1128.1" r="6.1" fill="#ff0000"/>
<circle cx="550.3" cy="1128.1" r="6.1" fill="#ff0000"/>
<circle cx="576.0" cy="1128.1" r="6.1" fill="#ff0000"/>
<circle cx="601.3" cy="1128.1" r="6.1" fill="#ff0000"/>
<circle cx="627.0" cy="1128.1" r="6.1" fill="#ff0000"/>
<circle cx="652.3" cy="1128.1" r="6.1" fill="#ff0000"/>
<circle cx="677.6" cy="1128.1" r="6.1" fill="#ff0000"/>
<circle cx="703.0" cy="1128.1" r="6.1" fill="#ff0000"/>
<circle cx="728.6" cy="1128.1" r="6.1" fill="#ff0000"/>
<circle cx="754.0" cy="1128.1" r="6.1" fill="#ff0000"/>
<circle cx="766.8" cy="1128.1" r="6.1" fill="#ff0000"/>
<circle cx="770.9" cy="1128.1" r="6.1" fill="#ff0000"/>
<circle cx="775.1" cy="1128.1" r="6.1" fill="#ff0000"/>
<circle cx="779.2" cy="1128.1" r="6.1" fill="#ff0000"/>
<circle cx="783.4" cy="1128.1" r="6.1" fill="#ff0000"/>
<circle cx="787.5" cy="1128.1" r="6.1" fill="#ff0000"/>
<circle cx="791.6" cy="1128.1" r="6.1" fill="#ff0000"/>
<circle cx="795.8" cy="1128.1" r="6.1" fill="#ff0000"/>
<circle cx="799.9" cy="1128.1" r="6.1" fill="#ff0000"/>
<circle cx="804.0" cy="1128.1" r="6.1" fill="#ff0000"/>
<circle cx="808.2" cy="1128.1" r="6.1" fill="#ff0000"/>
<circle cx="812.3" cy="1128.1" r="6.1" fill="#ff0000"/>
<circle cx="816.5" cy="1128.1" r="6.1" fill="#ff0000"/>
<circle cx="820.6" cy="1128.1" r="6.1" fill="#ff0000"/>
</g>
<line x1="440" y1="822.4" x2="553" y2="822.4" stroke="#0000ff" stroke-width="1.1"/>
<rect x="490.9" y="816.9" width="11" height="11" fill="#0000ff"/>
<line x1="440" y1="884.3" x2="553" y2="884.3" stroke="#ff0000" stroke-width="1.1"/>
<circle cx="496.4" cy="884.3" r="6.2" fill="#ff0000"/>
<text x="568.3" y="839.4" font-size="48.5" textLength="166.5" lengthAdjust="spacingAndGlyphs" fill="#000">forward</text>
<text x="568.3" y="900.9" font-size="48.5" textLength="214.5" lengthAdjust="spacingAndGlyphs" fill="#000">backward</text>
<text x="33.0" y="627.3" font-size="50" textLength="64.6" lengthAdjust="spacingAndGlyphs" fill="#000" stroke="#fff" stroke-width="0.9">(b)</text>
<text x="160.6" y="657.4" font-size="51" font-weight="bold" text-anchor="end" fill="#000">1.0</text>
<text x="160.6" y="755.9" font-size="51" font-weight="bold" text-anchor="end" fill="#000">0.8</text>
<text x="160.6" y="854.4" font-size="51" font-weight="bold" text-anchor="end" fill="#000">0.6</text>
<text x="160.6" y="953.0" font-size="51" font-weight="bold" text-anchor="end" fill="#000">0.4</text>
<text x="160.6" y="1051.5" font-size="51" font-weight="bold" text-anchor="end" fill="#000">0.2</text>
<text x="160.6" y="1150.0" font-size="51" font-weight="bold" text-anchor="end" fill="#000">0.0</text>
<text x="153.0" y="1234.0" font-size="51" font-weight="bold" text-anchor="middle" fill="#000">0</text>
<text x="322.7" y="1234.0" font-size="51" font-weight="bold" text-anchor="middle" fill="#000">200</text>
<text x="465.3" y="1234.0" font-size="51" font-weight="bold" text-anchor="middle" fill="#000">400</text>
<text x="609.0" y="1234.0" font-size="51" font-weight="bold" text-anchor="middle" fill="#000">600</text>
<text x="751.2" y="1234.0" font-size="51" font-weight="bold" text-anchor="middle" fill="#000">800</text>
<text x="436.2" y="1297.9" font-size="51" font-weight="bold" textLength="154" lengthAdjust="spacingAndGlyphs" fill="#000">x (µm)</text>
<text transform="translate(58.5 1047) rotate(-90)" font-size="50.5" font-weight="bold" textLength="326" lengthAdjust="spacingAndGlyphs" fill="#000">Transmission</text>
</svg>
</body></html>
